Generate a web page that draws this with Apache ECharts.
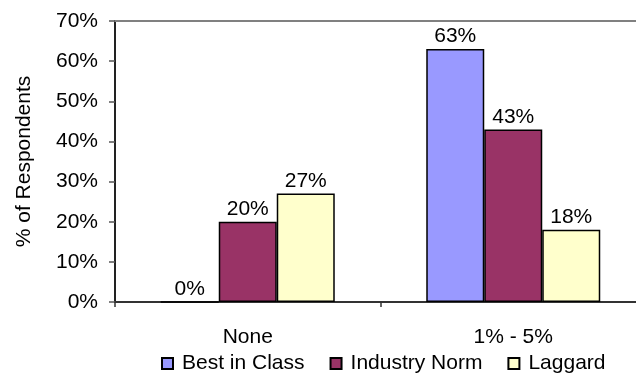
<!DOCTYPE html>
<html>
<head>
<meta charset="utf-8">
<script src="https://cdn.jsdelivr.net/npm/echarts@6/dist/echarts.min.js"></script>
<style>
  html, body { margin: 0; padding: 0; background: #fff; }
  #chart { width: 636px; height: 375px; }
</style>
</head>
<body>
<div id="chart"></div>
<script>
// Share of respondents by category, per performance group
var categories = ['None', '1% - 5%'];
var bestInClass = [0, 63];
var industryNorm = [20, 43];
var laggard = [27, 18];
var seriesNames = ['Best in Class', 'Industry Norm', 'Laggard'];
var yTicks = [0, 10, 20, 30, 40, 50, 60, 70];

var FONT = '"Liberation Sans", Arial, sans-serif';
var FS = 21;
var colors = ['#9999FF', '#993366', '#FFFFCC'];

function barSeries(name, values, color) {
  return {
    name: name,
    type: 'bar',
    xAxisIndex: 0,
    data: values,
    barWidth: 58,
    barGap: '0%',
    itemStyle: { color: color, borderColor: '#000', borderWidth: 1.5 },
    label: {
      show: true,
      position: 'top',
      distance: 2,
      color: '#000',
      fontFamily: FONT,
      fontSize: FS,
      formatter: function (p) { return p.value + '%'; }
    }
  };
}

var chart = echarts.init(document.getElementById('chart'), null, { renderer: 'canvas' });
chart.setOption({
  animation: false,
  backgroundColor: '#fff',
  // plot area runs slightly past the right edge of the canvas
  grid: { left: 115, width: 531, top: 21, height: 281, outerBoundsMode: 'none', containLabel: false },
  legend: {
    data: seriesNames,
    top: 353,
    left: 161,
    padding: 0,
    itemWidth: 11,
    itemHeight: 11,
    itemGap: 25,
    icon: 'rect',
    textStyle: { fontFamily: FONT, fontSize: FS, color: '#000', padding: [0, 0, 0, 4] }
  },
  xAxis: [{
    type: 'category',
    data: categories,
    axisLine: { lineStyle: { color: '#333', width: 2 } },
    axisTick: { show: true, length: 5, lineStyle: { color: '#333', width: 1.5 } },
    axisLabel: { color: '#000', fontFamily: FONT, fontSize: FS, margin: 25 }
  }, {
    type: 'category',
    data: categories,
    position: 'top',
    axisLine: { show: true, lineStyle: { color: '#808080', width: 2 } },
    axisTick: { show: false },
    axisLabel: { show: false }
  }],
  yAxis: {
    type: 'value',
    min: yTicks[0],
    max: yTicks[yTicks.length - 1],
    interval: 10,
    name: '% of Respondents',
    nameLocation: 'middle',
    nameRotate: 90,
    nameGap: 80,
    nameTextStyle: { fontFamily: FONT, fontSize: FS, color: '#000' },
    axisLine: { show: true, lineStyle: { color: '#222', width: 2 } },
    axisTick: { show: true, length: 6, lineStyle: { color: '#555', width: 1.5 } },
    splitLine: { show: false },
    axisLabel: {
      color: '#000',
      fontFamily: FONT,
      fontSize: FS,
      margin: 17,
      formatter: function (v) { return v + '%'; }
    }
  },
  series: [
    barSeries(seriesNames[0], bestInClass, colors[0]),
    barSeries(seriesNames[1], industryNorm, colors[1]),
    barSeries(seriesNames[2], laggard, colors[2])
  ]
});
</script>
</body>
</html>
